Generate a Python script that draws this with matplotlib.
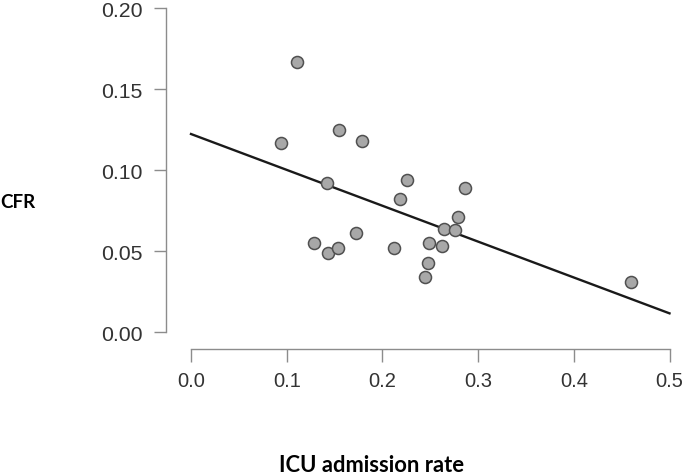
import matplotlib
matplotlib.use("Agg")
import matplotlib.pyplot as plt
import numpy as np

# Data
icu_rate = [0.111, 0.155, 0.179, 0.094, 0.142, 0.226, 0.218, 0.286, 0.279,
            0.264, 0.276, 0.129, 0.143, 0.154, 0.172, 0.212, 0.249, 0.262,
            0.248, 0.244, 0.460]
cfr = [0.167, 0.125, 0.118, 0.117, 0.092, 0.094, 0.082, 0.089, 0.071,
       0.064, 0.063, 0.055, 0.049, 0.052, 0.061, 0.052, 0.055, 0.053,
       0.043, 0.034, 0.031]
fit_x = [0.0, 0.5]
fit_intercept = 0.1224
fit_slope = -0.2214
xticks = [0.0, 0.1, 0.2, 0.3, 0.4, 0.5]
xtick_labels = ["0.0", "0.1", "0.2", "0.3", "0.4", "0.5"]
yticks = [0.00, 0.05, 0.10, 0.15, 0.20]
ytick_labels = ["0.00", "0.05", "0.10", "0.15", "0.20"]

W, H = 685, 477
fig = plt.figure(figsize=(W / 100, H / 100), dpi=100)
ax = fig.add_axes([191 / W, 143.7 / H, (669.5 - 191) / W, (467.7 - 143.7) / H])
ax.set_xlim(0, 0.5)
ax.set_ylim(0, 0.2)

fx = np.array(fit_x)
ax.plot(fx, fit_intercept + fit_slope * fx, color="#1a1a1a", lw=1.7, zorder=2,
        clip_on=False)
ax.scatter(icu_rate, cfr, s=75, facecolor="#a8a8a8", edgecolor="#505050",
           linewidths=1.1, zorder=3, clip_on=False)

for side in ("top", "right"):
    ax.spines[side].set_visible(False)
axis_col = "#8c8c8c"
ax.spines["left"].set_position(("outward", 18.2))
ax.spines["bottom"].set_position(("outward", 12))
for side in ("left", "bottom"):
    ax.spines[side].set_color(axis_col)
    ax.spines[side].set_linewidth(1.0)

ax.set_xticks(xticks)
ax.set_xticklabels(xtick_labels, fontdict={"family": "Liberation Sans", "size": 14.5},
                   color="#333333")
ax.set_yticks(yticks)
ax.set_yticklabels(ytick_labels, fontdict={"family": "Liberation Sans", "size": 15.3},
                   color="#333333")
ax.tick_params(axis="both", direction="out", length=9, width=1.0, color=axis_col)
ax.tick_params(axis="y", pad=7.5)
ax.tick_params(axis="x", pad=7)

fig.text(0 / W, 1 - 202 / H, "CFR", fontfamily="Lato", fontweight="bold",
         fontsize=13.5, ha="left", va="center", color="black")
fig.text(371.7 / W, 1 - 476 / H, "ICU admission rate", fontfamily="Lato",
         fontweight="bold", fontsize=15.8, ha="center", va="bottom",
         color="black")

fig.savefig("out.png", dpi=100)
